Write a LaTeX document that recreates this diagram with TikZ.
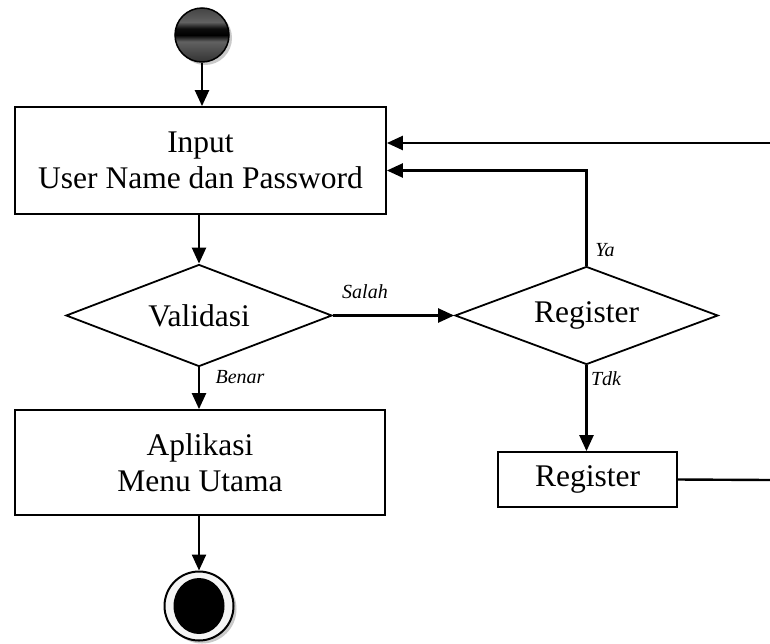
\documentclass[tikz,border=0pt]{standalone}
\usepackage{fontspec}
\setmainfont{Liberation Serif}
\usetikzlibrary{arrows.meta,shapes.geometric,shadows,calc}

% metallic look of the initial node
\pgfdeclareverticalshading{startball}{100bp}{%
  color(0bp)=(black!88); color(25bp)=(black!80); color(44bp)=(black!62);
  color(50bp)=(black); color(56bp)=(black!95); color(62bp)=(black!62);
  color(80bp)=(black!78); color(100bp)=(black!88)}

\begin{document}
\begin{tikzpicture}[x=1pt,y=-1pt,
  every node/.style={font=\fontsize{31.5}{36}\selectfont},
  box/.style={draw,line width=1.8pt,inner sep=0pt,align=center},
  decision/.style={draw,diamond,line width=1.8pt,inner sep=0pt,aspect=2.6},
  flow/.style={line width=2.4pt,-{Triangle[length=16pt,width=14pt]}},
  plain/.style={line width=2.4pt},
  guard/.style={font=\fontsize{20}{24}\selectfont\itshape}]
\useasboundingbox (0,0) rectangle (770,643);

% initial and final nodes
\node[circle,draw,line width=1.5pt,minimum size=54pt,inner sep=0pt,shading=startball,
  drop shadow={shadow xshift=3pt,shadow yshift=-3pt,fill=gray!70,opacity=0.6}] (start) at (202,35) {};
\node[circle,draw,line width=2pt,minimum size=69pt,inner sep=0pt,fill=gray!8,
  drop shadow={shadow xshift=3pt,shadow yshift=-3pt,fill=gray!70,opacity=0.6}] (final) at (199,606) {};
\node[ellipse,fill=black,minimum width=51pt,minimum height=56pt,inner sep=0pt] (finalcore) at (final.center) {};

% actions
\node[box,minimum width=371pt,minimum height=107pt] (login) at (200.5,160.5) {Input\\User Name dan Password};
\node[box,minimum width=370pt,minimum height=105pt] (menu) at (200,462.5) {Aplikasi\\Menu Utama};
\node[box,minimum width=179pt,minimum height=55pt] (regbox) at (587.5,479.5) {Register};

% decisions
\node[decision,minimum width=266pt,minimum height=102pt] (valid) at (199,315.5) {Validasi};
\node[decision,minimum width=263pt,minimum height=98pt] (regq) at (586.5,315.5) {Register};

% loose ends at the right border
\coordinate (back) at (770,143);
\coordinate (out) at (770,480);

% flows
\draw[flow] (start) -- (login.north -| start);
\draw[flow] (login.south -| valid.north) -- (valid.north);
\draw[flow] (valid.south) -- (menu.north -| valid.south);
\draw[flow] (menu.south -| final.north) -- (final.north);
\draw[flow] (valid.east) -- (regq.west);
\draw[flow] (regq.south) -- (regbox.north -| regq.south);
\draw[flow] (regq.north) |- ($(login.east)+(0,10)$);
\draw[flow] (back) -- (back -| login.east);
\draw[plain] (regbox.east) -- (out);

% guards
\node[guard] (gsalah) at (365,292) {Salah};
\node[guard] (gbenar) at (240,377) {Benar};
\node[guard] (gya) at (605,250) {Ya};
\node[guard] (gtdk) at (606,379) {Tdk};
\end{tikzpicture}
\end{document}
